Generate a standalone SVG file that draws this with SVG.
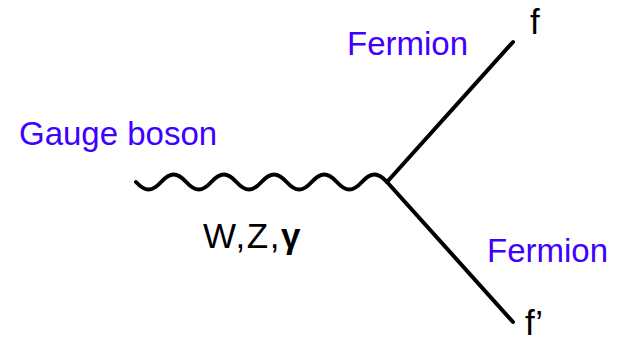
<svg xmlns="http://www.w3.org/2000/svg" width="623" height="343" viewBox="0 0 623 343">
<style>
.line{fill:none;stroke:#000;stroke-width:4;stroke-linecap:round;stroke-linejoin:round}
.lbl{font-family:"Liberation Sans",Arial,sans-serif;font-size:33px;fill:#4000ff}
.sym{font-family:"Liberation Sans",Arial,sans-serif;font-size:35px;fill:#000}
</style>
<rect width="623" height="343" fill="#fff"/>
<g id="connectors">
<path id="boson" class="line" d="M136,182 c9.14,10 15.96,10 25.1,0 s15.96,-10 25.1,0 s15.96,10 25.1,0 s15.96,-10 25.1,0 s15.96,10 25.1,0 s15.96,-10 25.1,0 s15.96,10 25.1,0 s15.96,-10 25.1,0 s15.96,10 25.1,0 s15.96,-10 25.1,0"/>
<path id="fermion1" class="line" d="M387,182 L513,42"/>
<path id="fermion2" class="line" d="M387,182 L513,322"/>
</g>
<g id="gauge-label"><text class="lbl" x="19" y="145" font-size="34">Gauge boson</text></g>
<g id="fermion-top-label"><text class="lbl" x="347" y="55">Fermion</text></g>
<g id="fermion-bottom-label"><text class="lbl" x="487" y="262">Fermion</text></g>
<g id="wzg-label"><text class="sym" x="203" y="248" font-size="37" letter-spacing="1.5">W,Z,<tspan font-weight="bold">γ</tspan></text></g>
<g id="f-label"><text class="sym" x="530" y="34">f</text></g>
<g id="fprime-label"><text class="sym" x="525" y="335">f’</text></g>
</svg>
